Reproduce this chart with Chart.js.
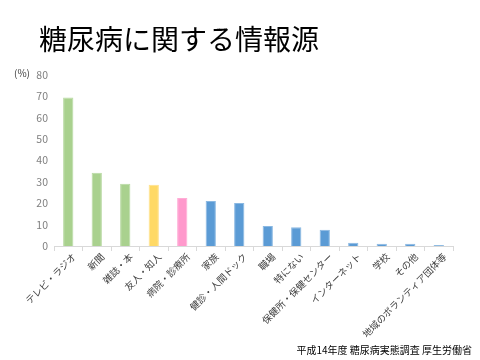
<!DOCTYPE html>
<html><head><meta charset="utf-8">
<script src="https://cdn.jsdelivr.net/npm/chart.js@4/dist/chart.umd.min.js"></script>
<style>html,body{margin:0;padding:0;background:#fff}#wrap{width:480px;height:360px}</style>
</head><body><div id="wrap"><canvas id="c" width="480" height="360"></canvas></div>
<script>
const titleText = "糖尿病に関する情報源";
const sourceText = "平成14年度 糖尿病実態調査 厚生労働省";
const unitText = "(%)";
const categories = ["テレビ・ラジオ","新聞","雑誌・本","友人・知人","病院・診療所","家族","健診・人間ドック","職場","特にない","保健所・保健センター","インターネット","学校","その他","地域のボランティア団体等"];
const values = [69.5, 34.3, 29.1, 28.6, 22.5, 21.0, 20.1, 9.4, 8.8, 7.6, 1.5, 1.0, 1.1, 0.5];
const groups = ["g","g","g","y","p","b","b","b","b","b","b","b","b","b"];
const palette = {g:"#a9d18e", y:"#ffd966", p:"#ff99cc", b:"#5b9bd5"};
const borderPalette = {g:"#b8d9a2", y:"#ffe08a", p:"#ffadd6", b:"#8ab8e2"};
const JP = "'Noto Sans CJK JP', 'Noto Sans', sans-serif";

const textPlugin = {
  id: 'texts',
  afterDraw(chart) {
    const ctx = chart.ctx;
    ctx.save();
    ctx.fillStyle = '#000';
    ctx.font = "28px " + JP;
    ctx.textBaseline = 'alphabetic';
    ctx.textAlign = 'left';
    ctx.fillText(titleText, 39, 50);
    ctx.font = "10px " + JP;
    ctx.fillStyle = '#404040';
    ctx.fillText(unitText, 14, 77);
    ctx.font = "10px " + JP;
    ctx.fillStyle = '#000';
    ctx.textAlign = 'right';
    ctx.fillText(sourceText, 472, 354);
    ctx.restore();
  }
};

new Chart(document.getElementById('c'), {
  type: 'bar',
  data: {
    labels: categories,
    datasets: [{
      data: values,
      backgroundColor: groups.map(g => palette[g]),
      borderColor: groups.map(g => borderPalette[g]),
      borderWidth: 1,
      barPercentage: 0.36,
      categoryPercentage: 1.0
    }]
  },
  options: {
    responsive: false,
    animation: false,
    layout: { padding: { top: 75, right: 27, left: 0, bottom: 0 } },
    plugins: { legend: { display: false }, tooltip: { enabled: false }, title: { display: false } },
    scales: {
      x: {
        grid: { display: true, drawOnChartArea: false, drawTicks: true, tickLength: 5, color: '#d9d9d9', offset: true },
        border: { display: true, color: '#d9d9d9' },
        ticks: { maxRotation: 45, minRotation: 45, autoSkip: false, color: '#404040', font: { size: 9.5, family: JP }, padding: 0, labelOffset: 6 },
        afterFit(scale) { scale.height = 114; }
      },
      y: {
        min: 0, max: 80,
        grid: { display: false },
        border: { display: false },
        ticks: { stepSize: 10, color: '#7f7f7f', font: { size: 10.5, family: JP }, padding: -2 },
        afterFit(scale) { scale.width = 54; }
      }
    }
  },
  plugins: [textPlugin]
});
</script>
</body></html>
